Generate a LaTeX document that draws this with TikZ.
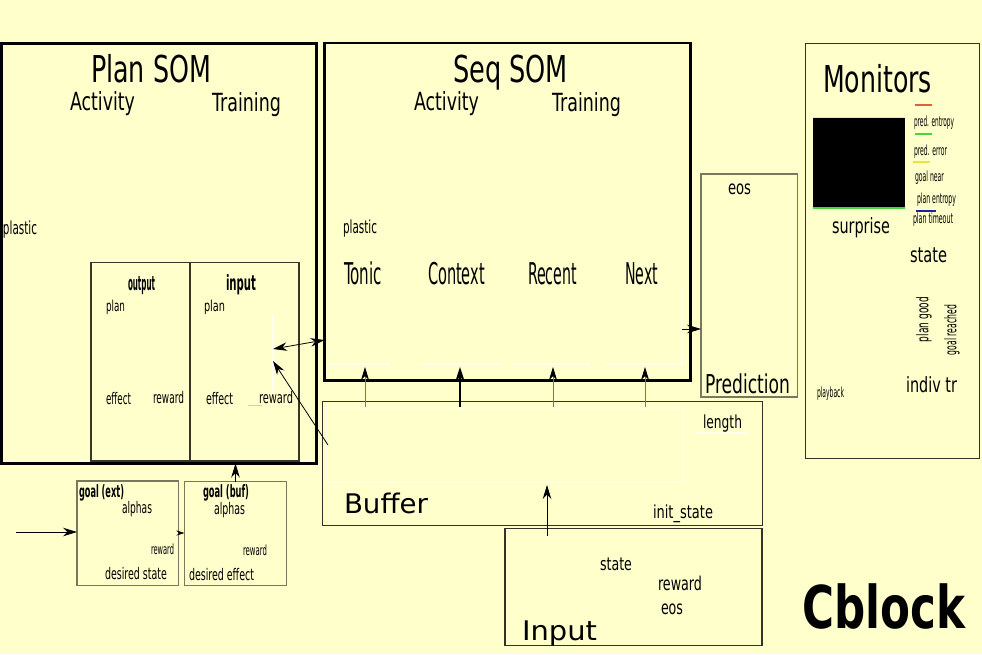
\documentclass[tikz,border=0pt]{standalone}
\usepackage{fontspec}
\usepackage{graphicx}
\setmainfont{DejaVu Sans}
\usetikzlibrary{arrows.meta,calc,fit}
\definecolor{bg}{RGB}{255,255,204}
\definecolor{olivegray}{RGB}{120,120,90}
\definecolor{dkolive}{RGB}{55,55,35}
\definecolor{dkgray}{RGB}{50,50,40}
\definecolor{legred}{RGB}{225,95,60}
\definecolor{leggreen}{RGB}{70,215,60}
\definecolor{legyellow}{RGB}{230,230,60}
\definecolor{legblue}{RGB}{30,30,160}
\newcommand\lbl[6]{\node[txt,font=\fontsize{#4}{#4}\selectfont] (#1) at (#2,#3) {\resizebox{#5pt}{\height}{#6}};}
\begin{document}
\begin{tikzpicture}[x=1pt,y=-1pt,
  txt/.style={anchor=base west,inner sep=0pt,outer sep=0pt},
  box/.style={draw,inner sep=0pt,outer sep=0pt},
  tip/.style={Stealth[length=14pt,width=8.5pt,inset=4.5pt]},
  arr/.style={-{Stealth[length=14pt,width=8.5pt,inset=4.5pt]},line width=0.8pt},
  garr/.style={draw=olivegray,line width=0.9pt,-{Stealth[length=13pt,width=8pt,inset=4pt,color=black]}},
  darr/.style={{Stealth[length=14pt,width=8.5pt,inset=4.5pt]}-{Stealth[length=14pt,width=8.5pt,inset=4.5pt]},line width=0.8pt},
  ghost/.style={white,line width=1.5pt,opacity=0.6}]
\fill[bg] (0,0) rectangle (982,654);
\useasboundingbox (0,0) rectangle (982,654);

% ---------- boxes ----------
\node[box,line width=3pt,fit={(1.5,43.5) (316,463.5)}] (plan) {};
\node[box,line width=2.5pt,fit={(324.5,43) (690.5,380.5)}] (seq) {};
\node[box,line width=1.2pt,draw=olivegray,fit={(701,174) (797.5,397)}] (pred) {};
\node[box,line width=1.8pt,draw=dkgray,fit={(805.5,43.5) (979.5,458.5)}] (mon) {};
\node[box,line width=1.3pt,draw=dkolive,fit={(91,262.5) (190,461)}] (outbox) {};
\node[box,line width=1.3pt,draw=dkolive,fit={(190,262.5) (299,461)}] (inbox) {};
\node[box,line width=1.2pt,draw=olivegray,fit={(77,481) (178.5,585.5)}] (gext) {};
\node[box,line width=1.2pt,draw=olivegray,fit={(184.5,481.5) (286.5,585.5)}] (gbuf) {};
\node[box,line width=1.5pt,draw=dkgray,fit={(322.5,401.5) (762.5,525.5)}] (buf) {};
\node[box,line width=1.5pt,draw=dkgray,fit={(505,528.5) (762,645.5)}] (inp) {};
\node[box,fill=black,draw=none,fit={(813,117.5) (905,208)}] (sq) {};
\draw[legyellow,line width=0.8pt,opacity=0.6] (sq.north west) -- (sq.north east);
\draw[leggreen,line width=1.2pt] (sq.south west) -- (sq.south east);

% ---------- faint white traces ----------
\draw[ghost] (328,364) -- (390,364) (422,364) -- (500,364) (513,364) -- (590,364) (605,364) -- (682,364) -- (682,288);
\draw[ghost,opacity=0.35] (326,408) rectangle (683,482);
\draw[ghost] (695,433) -- (748,433);
\draw[ghost,opacity=0.8] (273,315) -- (273,393);
\draw[olivegray!35,line width=0.6pt] (248,405) -- (262,405);

% ---------- legend lines ----------
\draw[legred,line width=1.2pt] (915,105) -- (932,105);
\draw[leggreen,line width=1.2pt] (915,134) -- (932,134);
\draw[legyellow,line width=1.2pt] (913,162) -- (930,162);
\draw[legblue,line width=1.2pt] (916,211) -- (936,211);

% ---------- labels ----------
\lbl{planT}{91}{82}{37}{120}{Plan SOM}
\lbl{pAct}{70}{110}{25}{65}{Activity}
\lbl{pTrn}{212}{111}{25}{69}{Training}
\lbl{pPl}{3}{234}{18}{34}{plastic}
\lbl{oT}{128}{290}{20}{27}{\bfseries output}
\lbl{oPlan}{106}{311}{15}{19}{plan}
\lbl{oEff}{106}{404}{16}{25}{effect}
\lbl{oRew}{153}{403}{16}{31}{reward}
\lbl{iT}{226}{290}{21}{30}{\bfseries input}
\lbl{iPlan}{204}{311}{15}{21}{plan}
\lbl{iEff}{206}{404}{16}{27}{effect}
\lbl{iRew}{259}{403}{16}{34}{reward}

\lbl{seqT}{453}{82}{37}{115}{Seq SOM}
\lbl{sAct}{414}{110}{25}{65}{Activity}
\lbl{sTrn}{552}{111}{25}{69}{Training}
\lbl{sPl}{343}{233}{18}{34}{plastic}
\lbl{tonic}{344}{284}{30}{38}{Tonic}
\lbl{context}{428}{284}{30}{57}{Context}
\lbl{recent}{528}{284}{30}{49}{Recent}
\lbl{next}{625}{284}{30}{33}{Next}

\lbl{pEos}{728}{194}{19}{23}{eos}
\lbl{predT}{705}{393}{26}{85}{Prediction}

\lbl{monT}{823}{92}{37}{109}{Monitors}
\lbl{surprise}{832}{233}{21}{58}{surprise}
\lbl{lg1}{914}{126}{14}{40}{pred. entropy}
\lbl{lg2}{914}{155}{14}{33}{pred. error}
\lbl{lg3}{915}{181}{14}{29}{goal near}
\lbl{lg4}{917}{203}{14}{39}{plan entropy}
\lbl{lg5}{913}{223}{14}{40}{plan timeout}
\lbl{mState}{910}{262}{21}{37}{state}
\lbl{indiv}{906}{392}{21}{51}{indiv tr}
\lbl{playback}{817}{397}{14}{27}{playback}
\node[rotate=90,inner sep=0pt,font=\fontsize{16}{16}\selectfont] (pgood) at (924,319.5) {\resizebox{45pt}{\height}{plan good}};
\node[rotate=90,inner sep=0pt,font=\fontsize{16}{16}\selectfont] (greach) at (952,330) {\resizebox{50pt}{\height}{goal reached}};

\lbl{gextT}{79}{497}{17}{45}{\bfseries goal (ext)}
\lbl{gextA}{122}{513}{16}{30}{alphas}
\lbl{gextR}{151}{554}{14}{23}{reward}
\lbl{gextD}{105}{579}{16}{62}{desired state}
\lbl{gbufT}{203}{497}{17}{46}{\bfseries goal (buf)}
\lbl{gbufA}{214}{514}{16}{31}{alphas}
\lbl{gbufR}{243}{555}{14}{24}{reward}
\lbl{gbufD}{189}{580}{16}{65}{desired effect}

\lbl{bufT}{344}{513}{27}{84}{Buffer}
\lbl{len}{703}{428}{18}{39}{length}
\lbl{init}{653}{518}{18}{60}{init\_state}
\lbl{inState}{600}{570}{18}{32}{state}
\lbl{inRew}{658}{590}{19}{44}{reward}
\lbl{inEos}{661}{614}{19}{22}{eos}
\lbl{inpT}{522}{640}{27}{75}{Input}
\lbl{cblock}{802}{628}{59}{163}{\bfseries Cblock}

% ---------- connectors ----------
\coordinate (dL) at (273,349);
\coordinate (dR) at (0,340);
\draw[darr] (dL) -- (seq.west |- dR);
\coordinate (bt) at (328,445);
\coordinate (iTip) at (273,361);
\draw[arr] (bt) -- (iTip);
\draw[arr] (gbuf.north) -- (gbuf.north |- plan.south);
\coordinate (gin) at (16,532);
\draw[arr] (gin) -- (gin -| gext.west);
\coordinate (gy) at (0,533);
\draw[line width=0.6pt,-{Stealth[length=8pt,width=5pt,inset=2.5pt]}] (gext.east |- gy) -- (gbuf.west |- gy);

\coordinate (a1) at (365,367);
\coordinate (a2) at (460,367);
\coordinate (a3) at (553,367);
\coordinate (a4) at (645,367);
\draw[garr] ($(a1 |- buf.north)+(0,5)$) -- (a1);
\draw[line width=2.2pt,-{Stealth[length=14pt,width=9pt,inset=4pt]}] ($(a2 |- buf.north)+(0,5)$) -- (a2);
\draw[garr] ($(a3 |- buf.north)+(0,5)$) -- (a3);
\draw[garr] ($(a4 |- buf.north)+(0,5)$) -- (a4);

\coordinate (pA) at (682,329);
\draw[arr] (pA) -- (pA -| pred.west);
\coordinate (iA) at (547,485);
\draw[arr] ($(iA |- inp.north)+(0,7)$) -- (iA);
\end{tikzpicture}
\end{document}
